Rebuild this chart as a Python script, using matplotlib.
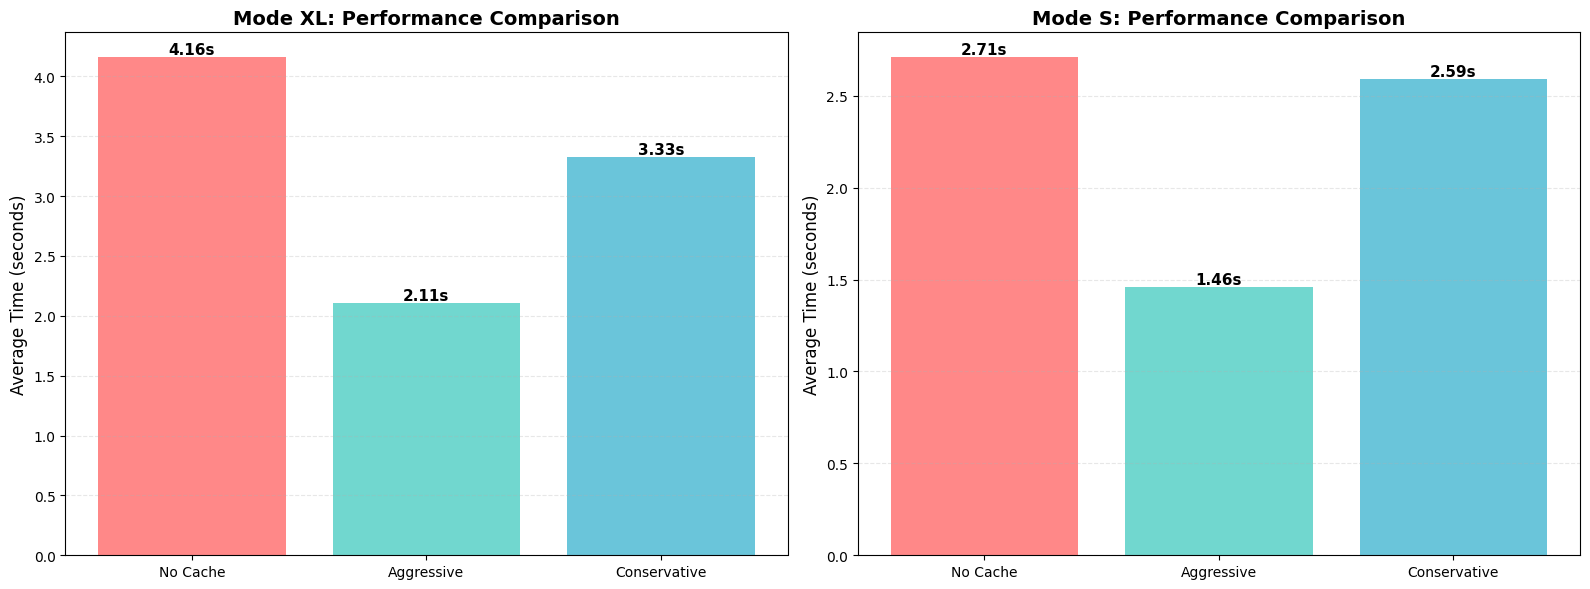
import matplotlib
matplotlib.use("Agg")
import matplotlib.pyplot as plt

strategies = ["No Cache", "Aggressive", "Conservative"]
times_xl = [4.16, 2.11, 3.33]
times_s = [2.71, 1.46, 2.59]
colors = ["#FF6B6B", "#4ECDC4", "#45B7D1"]

fig, axes = plt.subplots(1, 2, figsize=(16, 6), dpi=100)

for ax, mode, times in zip(axes, ["XL", "S"], [times_xl, times_s]):
    bars = ax.bar(strategies, times, color=colors, alpha=0.8)
    ax.set_title(f"Mode {mode}: Performance Comparison", fontsize=14, fontweight="bold")
    ax.set_ylabel("Average Time (seconds)", fontsize=12)
    ax.grid(axis="y", alpha=0.3, linestyle="--")
    for bar, t in zip(bars, times):
        ax.text(bar.get_x() + bar.get_width() / 2, bar.get_height(), f"{t:.2f}s",
                ha="center", va="bottom", fontsize=11, fontweight="bold")

fig.tight_layout()
fig.savefig("out.png", dpi=100, bbox_inches="tight")
